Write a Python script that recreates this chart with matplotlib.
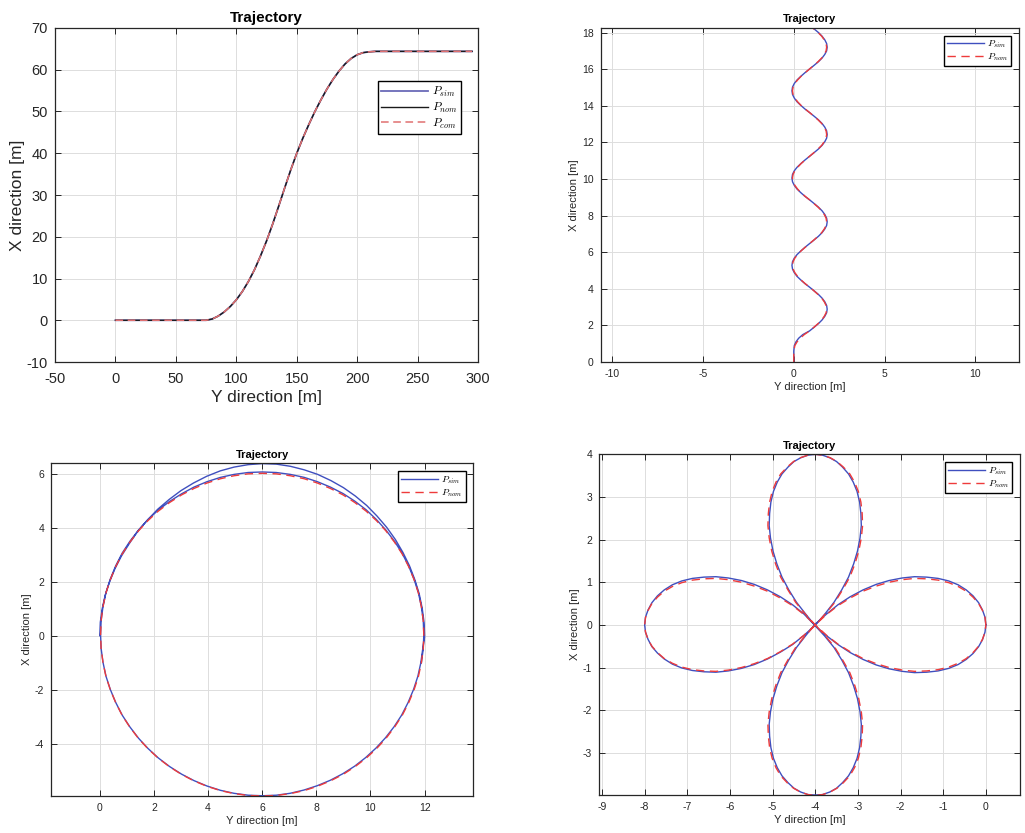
import numpy as np
import matplotlib
matplotlib.use('Agg')
import matplotlib.pyplot as plt

plt.rcParams['font.family'] = ['Liberation Sans', 'DejaVu Sans']
plt.rcParams['mathtext.fontset'] = 'cm'
plt.rcParams['axes.unicode_minus'] = False

# ---- panel 1: lane change (Y direction, X direction) ----
lane_y = [0, 75, 80, 85, 90, 95, 100, 105, 110, 115, 120, 125, 130, 135, 140, 145,
          150, 155, 160, 165, 170, 175, 180, 185, 190, 195, 200, 205, 210, 215, 295]
lane_x = [0, 0, 0.3, 1.0, 2.0, 3.3, 4.9, 6.9, 9.3, 12.1, 15.4, 19.0, 23.0, 27.3, 31.7, 36.0,
          40.0, 43.6, 46.9, 50.0, 52.8, 55.4, 57.7, 59.7, 61.4, 62.7, 63.6, 64.1, 64.3, 64.4, 64.4]

# ---- panel 2: sine path ----
sine_x = [0, 0.6, 0.9, 1.1, 1.3, 1.5,
          1.70, 1.90, 2.10, 2.30, 2.50, 2.69, 2.89, 3.09, 3.29, 3.49, 3.69, 3.89,
          4.09, 4.28, 4.48, 4.68, 4.88, 5.08, 5.28, 5.48, 5.68, 5.87, 6.07, 6.27,
          6.47, 6.67, 6.87, 7.07, 7.27, 7.46, 7.66, 7.86, 8.06, 8.26, 8.46, 8.66,
          8.86, 9.05, 9.25, 9.45, 9.65, 9.85, 10.05, 10.25, 10.45, 10.64, 10.84, 11.04,
          11.24, 11.44, 11.64, 11.84, 12.04, 12.23, 12.43, 12.63, 12.83, 13.03, 13.23, 13.43,
          13.63, 13.82, 14.02, 14.22, 14.42, 14.62, 14.82, 15.02, 15.22, 15.41, 15.61, 15.81,
          16.01, 16.21, 16.41, 16.61, 16.81, 17.00, 17.20, 17.40, 17.60, 17.80, 18.00, 18.20,
          18.39]
sine_y_sim = [0, 0, 0.03, 0.12, 0.27, 0.50,
              0.87, 1.12, 1.36, 1.56, 1.71, 1.81, 1.84, 1.81, 1.71, 1.56, 1.36, 1.12,
              0.87, 0.62, 0.39, 0.18, 0.03, -0.07, -0.10, -0.07, 0.03, 0.18, 0.39, 0.62,
              0.87, 1.12, 1.36, 1.56, 1.71, 1.81, 1.84, 1.81, 1.71, 1.56, 1.36, 1.12,
              0.87, 0.62, 0.39, 0.18, 0.03, -0.07, -0.10, -0.07, 0.03, 0.18, 0.39, 0.62,
              0.87, 1.12, 1.36, 1.56, 1.71, 1.81, 1.84, 1.81, 1.71, 1.56, 1.36, 1.12,
              0.87, 0.62, 0.39, 0.18, 0.03, -0.07, -0.10, -0.07, 0.03, 0.18, 0.39, 0.62,
              0.87, 1.12, 1.36, 1.56, 1.71, 1.81, 1.84, 1.81, 1.71, 1.56, 1.36, 1.12,
              0.87]
sine_y_nom = [0, 0, 0.06, 0.18, 0.35, 0.58,
              0.87, 1.11, 1.34, 1.54, 1.68, 1.78, 1.81, 1.78, 1.68, 1.54, 1.34, 1.11,
              0.87, 0.63, 0.40, 0.21, 0.06, -0.04, -0.07, -0.04, 0.06, 0.21, 0.40, 0.63,
              0.87, 1.11, 1.34, 1.54, 1.68, 1.78, 1.81, 1.78, 1.68, 1.54, 1.34, 1.11,
              0.87, 0.63, 0.40, 0.21, 0.06, -0.04, -0.07, -0.04, 0.06, 0.21, 0.40, 0.63,
              0.87, 1.11, 1.34, 1.54, 1.68, 1.78, 1.81, 1.78, 1.68, 1.54, 1.34, 1.11,
              0.87, 0.63, 0.40, 0.21, 0.06, -0.04, -0.07, -0.04, 0.06, 0.21, 0.40, 0.63,
              0.87, 1.11, 1.34, 1.54, 1.68, 1.78, 1.81, 1.78, 1.68, 1.54, 1.34, 1.11,
              0.87]

# ---- panel 3: circle, (Y, X) pairs ----
circle_nom = [(0.03, 0.04), (0.05, 0.56), (0.12, 1.08), (0.23, 1.59), (0.39, 2.08), (0.59, 2.56),
              (0.83, 3.03), (1.11, 3.46), (1.43, 3.88), (1.78, 4.26), (2.16, 4.61), (2.58, 4.93),
              (3.02, 5.21), (3.48, 5.45), (3.96, 5.65), (4.46, 5.81), (4.96, 5.92), (5.48, 5.99),
              (6.0, 6.01), (6.52, 5.99), (7.04, 5.92), (7.55, 5.81), (8.04, 5.65), (8.52, 5.45),
              (8.99, 5.21), (9.42, 4.93), (9.84, 4.61), (10.22, 4.26), (10.57, 3.88), (10.89, 3.46),
              (11.17, 3.03), (11.41, 2.56), (11.61, 2.08), (11.77, 1.59), (11.88, 1.08),
              (11.95, 0.56), (11.97, 0.04), (11.95, -0.48), (11.88, -1.0), (11.77, -1.51),
              (11.61, -2.0), (11.41, -2.48), (11.17, -2.95), (10.89, -3.38), (10.57, -3.8),
              (10.22, -4.18), (9.84, -4.53), (9.42, -4.85), (8.99, -5.13), (8.52, -5.37),
              (8.04, -5.57), (7.55, -5.73), (7.04, -5.84), (6.52, -5.91), (6.0, -5.93),
              (5.48, -5.91), (4.96, -5.84), (4.46, -5.73), (3.96, -5.57), (3.48, -5.37),
              (3.02, -5.13), (2.58, -4.85), (2.16, -4.53), (1.78, -4.18), (1.43, -3.8),
              (1.11, -3.38), (0.83, -2.95), (0.59, -2.48), (0.39, -2.0), (0.23, -1.51),
              (0.12, -1.0), (0.05, -0.48), (0.03, 0.04)]
circle_sim_lap1_top = [(0.0, 0.0), (0.02, 0.50), (0.09, 1.0), (0.2, 1.5), (0.36, 1.99),
                       (0.56, 2.48), (0.8, 2.95), (1.09, 3.41), (1.4, 3.86), (1.76, 4.28),
                       (2.14, 4.68), (2.56, 5.04), (3.0, 5.37), (3.46, 5.65), (3.95, 5.9),
                       (4.45, 6.1), (4.96, 6.24), (5.48, 6.33), (6.0, 6.37), (6.52, 6.35),
                       (7.04, 6.27), (7.55, 6.14), (8.05, 5.97), (8.54, 5.74), (9.0, 5.48),
                       (9.44, 5.17), (9.86, 4.82), (10.24, 4.43), (10.6, 4.01), (10.92, 3.56),
                       (11.2, 3.08), (11.44, 2.59), (11.64, 2.07), (11.8, 1.55), (11.91, 1.02),
                       (11.98, 0.49), (12.0, -0.04)]
circle_sim_lap1_bottom = [(11.93, -0.49), (11.86, -1.0), (11.75, -1.5), (11.59, -1.99),
                          (11.39, -2.47), (11.15, -2.94), (10.87, -3.37), (10.55, -3.78),
                          (10.2, -4.16), (9.82, -4.51), (9.41, -4.83), (8.97, -5.11),
                          (8.51, -5.35), (8.03, -5.55), (7.54, -5.71), (7.03, -5.83),
                          (6.52, -5.9), (6.0, -5.92), (5.48, -5.9), (4.96, -5.83),
                          (4.46, -5.72), (3.96, -5.56), (3.48, -5.36), (3.02, -5.12),
                          (2.58, -4.84), (2.16, -4.52), (1.78, -4.17), (1.43, -3.79),
                          (1.11, -3.37), (0.83, -2.94), (0.59, -2.47), (0.39, -1.99),
                          (0.23, -1.5), (0.12, -0.99), (0.05, -0.47), (0.03, 0.04)]
circle_sim_lap2 = [(0.05, 0.56), (0.12, 1.09), (0.23, 1.6), (0.39, 2.1), (0.59, 2.59),
                   (0.83, 3.06), (1.11, 3.49), (1.43, 3.91), (1.78, 4.3), (2.16, 4.65),
                   (2.58, 4.97), (3.02, 5.25), (3.48, 5.5), (3.96, 5.7), (4.46, 5.86),
                   (4.96, 5.97), (5.48, 6.04), (6.0, 6.06), (6.52, 6.04), (7.04, 5.97),
                   (7.55, 5.86), (8.04, 5.7), (8.52, 5.5), (8.99, 5.26), (9.42, 4.98),
                   (9.84, 4.66), (10.22, 4.3), (10.57, 3.91), (10.89, 3.49), (11.17, 3.05),
                   (11.41, 2.58), (11.61, 2.09), (11.77, 1.59), (11.88, 1.08), (11.95, 0.56),
                   (11.97, 0.04), (11.95, -0.48), (11.88, -1.0)]

circle_nom_arr = np.array(circle_nom)
circle_sim_arr = np.array(circle_sim_lap1_top + circle_sim_lap1_bottom + circle_sim_lap2)

# ---- panel 4: four-leaf path, (Y, X) pairs, one list per petal ----
rose_nom_right_up = [(0, 0), (-0.02, 0.17), (-0.08, 0.34), (-0.17, 0.50), (-0.30, 0.65),
                     (-0.46, 0.79), (-0.65, 0.90), (-0.87, 0.99), (-1.12, 1.05), (-1.39, 1.08),
                     (-1.67, 1.09), (-1.96, 1.06), (-2.27, 1.0), (-2.57, 0.91), (-2.88, 0.79),
                     (-3.18, 0.63), (-3.47, 0.45), (-3.74, 0.24), (-4, 0)]
rose_nom_bottom = [(-4.24, -0.26), (-4.46, -0.53), (-4.64, -0.82), (-4.81, -1.12), (-4.93, -1.43),
                   (-5.02, -1.73), (-5.08, -2.04), (-5.11, -2.33), (-5.10, -2.61), (-5.07, -2.88),
                   (-5.01, -3.13), (-4.92, -3.35), (-4.81, -3.54), (-4.66, -3.70), (-4.51, -3.83),
                   (-4.35, -3.92), (-4.17, -3.98), (-4, -4),
                   (-3.83, -3.98), (-3.65, -3.92), (-3.49, -3.83), (-3.34, -3.70), (-3.19, -3.54),
                   (-3.08, -3.35), (-2.99, -3.13), (-2.93, -2.88), (-2.90, -2.61), (-2.89, -2.33),
                   (-2.92, -2.04), (-2.98, -1.73), (-3.07, -1.43), (-3.19, -1.12), (-3.36, -0.82),
                   (-3.54, -0.53), (-3.76, -0.26), (-4, 0)]
rose_nom_left = [(-4.26, 0.24), (-4.53, 0.45), (-4.82, 0.63), (-5.12, 0.79), (-5.43, 0.91),
                 (-5.73, 1.0), (-6.04, 1.06), (-6.33, 1.09), (-6.61, 1.08), (-6.88, 1.05),
                 (-7.13, 0.99), (-7.35, 0.90), (-7.54, 0.79), (-7.70, 0.65), (-7.83, 0.50),
                 (-7.92, 0.34), (-7.98, 0.17), (-8, 0),
                 (-7.98, -0.17), (-7.92, -0.34), (-7.83, -0.50), (-7.70, -0.65), (-7.54, -0.79),
                 (-7.35, -0.90), (-7.13, -0.99), (-6.88, -1.05), (-6.61, -1.08), (-6.33, -1.09),
                 (-6.04, -1.06), (-5.73, -1.0), (-5.43, -0.91), (-5.12, -0.79), (-4.82, -0.63),
                 (-4.53, -0.45), (-4.26, -0.24), (-4, 0)]
rose_nom_top = [(-3.76, 0.26), (-3.54, 0.53), (-3.36, 0.82), (-3.19, 1.12), (-3.07, 1.43),
                (-2.98, 1.73), (-2.92, 2.04), (-2.89, 2.33), (-2.90, 2.61), (-2.93, 2.88),
                (-2.99, 3.13), (-3.08, 3.35), (-3.19, 3.54), (-3.34, 3.70), (-3.49, 3.83),
                (-3.65, 3.92), (-3.83, 3.98), (-4, 4),
                (-4.17, 3.98), (-4.35, 3.92), (-4.51, 3.83), (-4.66, 3.70), (-4.81, 3.54),
                (-4.92, 3.35), (-5.01, 3.13), (-5.07, 2.88), (-5.10, 2.61), (-5.11, 2.33),
                (-5.08, 2.04), (-5.02, 1.73), (-4.93, 1.43), (-4.81, 1.12), (-4.64, 0.82),
                (-4.46, 0.53), (-4.24, 0.26), (-4, 0)]
rose_nom_right_down = [(-3.74, -0.24), (-3.47, -0.45), (-3.18, -0.63), (-2.88, -0.79),
                       (-2.57, -0.91), (-2.27, -1.0), (-1.96, -1.06), (-1.67, -1.09),
                       (-1.39, -1.08), (-1.12, -1.05), (-0.87, -0.99), (-0.65, -0.90),
                       (-0.46, -0.79), (-0.30, -0.65), (-0.17, -0.50), (-0.08, -0.34),
                       (-0.02, -0.17), (0, 0)]

rose_sim_right_up = [(0, 0), (-0.02, 0.18), (-0.08, 0.35), (-0.17, 0.52), (-0.30, 0.68),
                     (-0.46, 0.82), (-0.65, 0.94), (-0.87, 1.03), (-1.12, 1.09), (-1.39, 1.12),
                     (-1.67, 1.13), (-1.96, 1.10), (-2.27, 1.04), (-2.57, 0.95), (-2.88, 0.82),
                     (-3.18, 0.66), (-3.47, 0.47), (-3.74, 0.25), (-4.0, 0.02)]
rose_sim_bottom = [(-4.23, -0.26), (-4.44, -0.53), (-4.62, -0.82), (-4.78, -1.12), (-4.90, -1.43),
                   (-4.99, -1.73), (-5.05, -2.04), (-5.08, -2.33), (-5.07, -2.61), (-5.04, -2.88),
                   (-4.98, -3.13), (-4.89, -3.35), (-4.78, -3.54), (-4.64, -3.70), (-4.50, -3.83),
                   (-4.34, -3.92), (-4.17, -3.98), (-4.0, -3.99),
                   (-3.83, -3.98), (-3.66, -3.92), (-3.50, -3.83), (-3.36, -3.70), (-3.22, -3.54),
                   (-3.11, -3.35), (-3.02, -3.13), (-2.96, -2.88), (-2.93, -2.61), (-2.92, -2.33),
                   (-2.95, -2.04), (-3.01, -1.73), (-3.10, -1.43), (-3.22, -1.12), (-3.38, -0.82),
                   (-3.56, -0.53), (-3.78, -0.26), (-4.02, 0.0)]
rose_sim_left = [(-4.26, 0.25), (-4.53, 0.47), (-4.82, 0.66), (-5.12, 0.82), (-5.43, 0.95),
                 (-5.73, 1.04), (-6.04, 1.10), (-6.33, 1.13), (-6.61, 1.12), (-6.88, 1.09),
                 (-7.13, 1.03), (-7.35, 0.94), (-7.54, 0.82), (-7.70, 0.68), (-7.83, 0.52),
                 (-7.92, 0.35), (-7.98, 0.18), (-8.0, 0.0),
                 (-7.98, -0.17), (-7.92, -0.34), (-7.83, -0.51), (-7.70, -0.66), (-7.54, -0.80),
                 (-7.35, -0.92), (-7.13, -1.01), (-6.88, -1.07), (-6.61, -1.10), (-6.33, -1.11),
                 (-6.04, -1.08), (-5.73, -1.02), (-5.43, -0.93), (-5.12, -0.80), (-4.82, -0.64),
                 (-4.53, -0.46), (-4.26, -0.24), (-3.99, 0.0)]
rose_sim_top = [(-3.77, 0.26), (-3.56, 0.53), (-3.38, 0.82), (-3.22, 1.12), (-3.10, 1.43),
                (-3.01, 1.73), (-2.95, 2.04), (-2.92, 2.33), (-2.93, 2.61), (-2.96, 2.88),
                (-3.02, 3.13), (-3.11, 3.35), (-3.22, 3.54), (-3.36, 3.70), (-3.50, 3.83),
                (-3.66, 3.92), (-3.83, 3.98), (-4.0, 4.0),
                (-4.17, 3.98), (-4.34, 3.92), (-4.50, 3.83), (-4.64, 3.70), (-4.78, 3.54),
                (-4.89, 3.35), (-4.98, 3.13), (-5.04, 2.88), (-5.07, 2.61), (-5.08, 2.33),
                (-5.05, 2.04), (-4.99, 1.73), (-4.90, 1.43), (-4.78, 1.12), (-4.62, 0.82),
                (-4.44, 0.53), (-4.23, 0.26), (-4.0, -0.02)]
rose_sim_right_down = [(-3.74, -0.25), (-3.47, -0.46), (-3.18, -0.65), (-2.88, -0.81),
                       (-2.57, -0.94), (-2.27, -1.03), (-1.96, -1.09), (-1.67, -1.12),
                       (-1.39, -1.11), (-1.12, -1.08), (-0.87, -1.02), (-0.65, -0.93),
                       (-0.46, -0.81), (-0.30, -0.67), (-0.17, -0.51), (-0.08, -0.35),
                       (-0.02, -0.17), (0, 0)]

rose_nom = np.array(rose_nom_right_up + rose_nom_bottom + rose_nom_left
                    + rose_nom_top + rose_nom_right_down)
rose_sim = np.array(rose_sim_right_up + rose_sim_bottom + rose_sim_left
                    + rose_sim_top + rose_sim_right_down)

BLUE = '#3f4fbf'
RED = '#ee3b3b'
INK = '#262626'


def style_axes(ax, fs, lfs, tfs, pad, lpad):
    ax.grid(True, color='#dddddd', linewidth=0.7)
    ax.set_axisbelow(True)
    ax.tick_params(direction='in', top=True, right=True, labelsize=fs,
                   length=4, width=0.7, colors=INK, pad=pad)
    for s in ax.spines.values():
        s.set_linewidth(0.9)
        s.set_color(INK)
    ax.set_xlabel('Y direction [m]', fontsize=lfs, color=INK, labelpad=lpad)
    ax.set_ylabel('X direction [m]', fontsize=lfs, color=INK, labelpad=lpad)
    ax.set_title('Trajectory', fontsize=tfs, fontweight='bold', pad=4)


def add_legend(ax, fs, hl, **kw):
    leg = ax.legend(fontsize=fs, frameon=True, fancybox=False, edgecolor='black',
                    framealpha=1, handlelength=hl, borderpad=0.3, labelspacing=0.15,
                    handletextpad=0.3, **kw)
    leg.get_frame().set_linewidth(1.0)
    return leg


fig = plt.figure(figsize=(10.25, 8.33), dpi=100)

# panel 1
ax1 = fig.add_axes([0.0537, 0.5654, 0.4127, 0.401])
ax1.plot(lane_y, lane_x, color='#6a6ab8', lw=1.3, label=r'$P_{sim}$')
ax1.plot(lane_y, lane_x, color='#1a1a1a', lw=1.0, label=r'$P_{nom}$')
ax1.plot(lane_y, lane_x, color='#e07070', lw=1.1, dashes=(5, 3), label=r'$P_{com}$')
ax1.set_xlim(-50, 300)
ax1.set_ylim(-10, 70)
ax1.set_xticks(np.arange(-50, 301, 50))
ax1.set_yticks(np.arange(-10, 71, 10))
style_axes(ax1, 10.5, 12.5, 11, 7, 3)
ax1.tick_params(axis='y', pad=5)
ax1.yaxis.labelpad = 1
add_legend(ax1, 8.5, 4.0, loc='upper right', bbox_to_anchor=(0.96, 0.84), borderaxespad=0)

# panel 2
ax2 = fig.add_axes([0.586, 0.5654, 0.408, 0.401])
ax2.plot(sine_y_sim, sine_x, color=BLUE, lw=1.0, label=r'$P_{sim}$')
ax2.plot(sine_y_nom, sine_x, color=RED, lw=1.0, dashes=(6, 4), label=r'$P_{nom}$')
ax2.set_xlim(-10.64, 12.4)
ax2.set_ylim(0, 18.25)
ax2.set_xticks([-10, -5, 0, 5, 10])
ax2.set_yticks(np.arange(0, 19, 2))
style_axes(ax2, 7.5, 8, 8, 5, 2)
add_legend(ax2, 7, 3.8, loc='upper right', borderaxespad=0.8)

# panel 3
ax3 = fig.add_axes([0.0498, 0.0444, 0.412, 0.3994])
ax3.plot(circle_sim_arr[:, 0], circle_sim_arr[:, 1], color=BLUE, lw=1.0, label=r'$P_{sim}$')
ax3.plot(circle_nom_arr[:, 0], circle_nom_arr[:, 1], color=RED, lw=1.0, dashes=(6, 4),
         label=r'$P_{nom}$')
ax3.set_xlim(-1.8, 13.8)
ax3.set_ylim(-5.93, 6.38)
ax3.set_xticks(np.arange(0, 13, 2))
ax3.set_yticks(np.arange(-4, 7, 2))
style_axes(ax3, 7.5, 8, 8, 5, 2)
add_legend(ax3, 7, 3.8, loc='upper right', borderaxespad=0.8)

# panel 4
ax4 = fig.add_axes([0.5844, 0.0456, 0.4107, 0.409])
ax4.plot(rose_sim[:, 0], rose_sim[:, 1], color=BLUE, lw=1.0, label=r'$P_{sim}$')
ax4.plot(rose_nom[:, 0], rose_nom[:, 1], color=RED, lw=1.0, dashes=(6, 4), label=r'$P_{nom}$')
ax4.set_xlim(-9.07, 0.8)
ax4.set_ylim(-3.99, 4.0)
ax4.set_xticks(np.arange(-9, 1, 1))
ax4.set_yticks(np.arange(-3, 5, 1))
style_axes(ax4, 7.5, 8, 8, 5, 2)
add_legend(ax4, 7, 3.8, loc='upper right', borderaxespad=0.8)

fig.savefig('out.png', dpi=100)
